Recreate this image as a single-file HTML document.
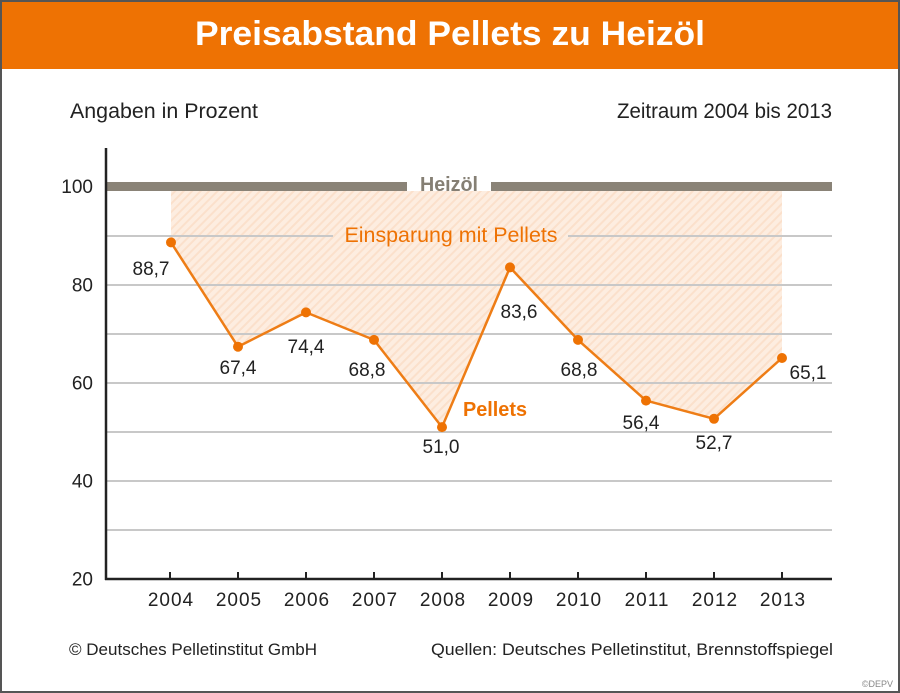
<!DOCTYPE html>
<html><head><meta charset="utf-8"><style>
html,body{margin:0;padding:0;background:#fff;}
svg{display:block;}
text{font-family:"Liberation Sans",sans-serif;}
</style></head><body>
<svg width="900" height="693" viewBox="0 0 900 693" xmlns="http://www.w3.org/2000/svg">
<defs>
<pattern id="hatch" width="6" height="6" patternUnits="userSpaceOnUse" patternTransform="rotate(45)">
<rect width="6" height="6" fill="#fdede0"/>
<rect width="2" height="6" fill="#fbe0cb"/>
</pattern>
</defs>
<rect x="0" y="0" width="900" height="693" fill="#fff"/>
<rect x="0" y="0" width="900" height="69" fill="#ee7203"/>
<rect x="1" y="1" width="898" height="691" fill="none" stroke="#555" stroke-width="2"/>
<text x="450" y="45" text-anchor="middle" font-size="34" font-weight="bold" fill="#fff" textLength="510" lengthAdjust="spacingAndGlyphs">Preisabstand Pellets zu Heizöl</text>
<text x="70" y="118" font-size="21" fill="#222" textLength="188" lengthAdjust="spacingAndGlyphs">Angaben in Prozent</text>
<text x="832" y="118" text-anchor="end" font-size="21" fill="#222" textLength="215" lengthAdjust="spacingAndGlyphs">Zeitraum 2004 bis 2013</text>

<!-- fill area -->
<polygon points="171,191 782,191 782,358 714,418.8 646,400.6 578,339.9 510,267.4 442,427.1 374,339.9 306,312.4 238,346.7 171,242.4" fill="url(#hatch)"/>

<!-- gridlines -->
<g stroke="#c8c8c8" stroke-width="2">
<line x1="106" y1="236" x2="333" y2="236"/>
<line x1="568" y1="236" x2="832" y2="236"/>
<line x1="106" y1="285" x2="832" y2="285"/>
<line x1="106" y1="334" x2="832" y2="334"/>
<line x1="106" y1="383" x2="832" y2="383"/>
<line x1="106" y1="432" x2="832" y2="432"/>
<line x1="106" y1="481" x2="832" y2="481"/>
<line x1="106" y1="530" x2="832" y2="530"/>
</g>

<!-- Heizöl bar -->
<rect x="106" y="182" width="301" height="9" fill="#8a8377"/>
<rect x="491" y="182" width="341" height="9" fill="#8a8377"/>
<text x="449" y="191" text-anchor="middle" font-size="20" font-weight="bold" fill="#857f74" textLength="58" lengthAdjust="spacingAndGlyphs">Heizöl</text>
<text x="451" y="242" text-anchor="middle" font-size="21" fill="#ee7203" textLength="213" lengthAdjust="spacingAndGlyphs">Einsparung mit Pellets</text>

<!-- axes -->
<line x1="106" y1="148" x2="106" y2="580" stroke="#222" stroke-width="2.5"/>
<line x1="105" y1="579" x2="832" y2="579" stroke="#222" stroke-width="2.5"/>
<g stroke="#222" stroke-width="2">
<line x1="170" y1="572" x2="170" y2="579"/>
<line x1="238" y1="572" x2="238" y2="579"/>
<line x1="306" y1="572" x2="306" y2="579"/>
<line x1="374" y1="572" x2="374" y2="579"/>
<line x1="442" y1="572" x2="442" y2="579"/>
<line x1="510" y1="572" x2="510" y2="579"/>
<line x1="578" y1="572" x2="578" y2="579"/>
<line x1="646" y1="572" x2="646" y2="579"/>
<line x1="714" y1="572" x2="714" y2="579"/>
<line x1="782" y1="572" x2="782" y2="579"/>
</g>

<!-- y labels -->
<g font-size="19" fill="#222" text-anchor="end">
<text x="93" y="193">100</text>
<text x="93" y="291.5">80</text>
<text x="93" y="389.5">60</text>
<text x="93" y="487.5">40</text>
<text x="93" y="585.5">20</text>
</g>

<!-- x labels -->
<g font-size="19" fill="#222" text-anchor="middle" letter-spacing="1">
<text x="171" y="606">2004</text>
<text x="239" y="606">2005</text>
<text x="307" y="606">2006</text>
<text x="375" y="606">2007</text>
<text x="443" y="606">2008</text>
<text x="511" y="606">2009</text>
<text x="579" y="606">2010</text>
<text x="647" y="606">2011</text>
<text x="715" y="606">2012</text>
<text x="783" y="606">2013</text>
</g>

<!-- line -->
<polyline points="171,242.4 238,346.7 306,312.4 374,339.9 442,427.1 510,267.4 578,339.9 646,400.6 714,418.8 782,358" fill="none" stroke="#ee7d16" stroke-width="2.5" stroke-linejoin="round"/>
<g fill="#ee7203">
<circle cx="171" cy="242.4" r="5"/>
<circle cx="238" cy="346.7" r="5"/>
<circle cx="306" cy="312.4" r="5"/>
<circle cx="374" cy="339.9" r="5"/>
<circle cx="442" cy="427.1" r="5"/>
<circle cx="510" cy="267.4" r="5"/>
<circle cx="578" cy="339.9" r="5"/>
<circle cx="646" cy="400.6" r="5"/>
<circle cx="714" cy="418.8" r="5"/>
<circle cx="782" cy="358" r="5"/>
</g>

<!-- data labels -->
<g font-size="19" fill="#222" text-anchor="middle">
<text x="151" y="275">88,7</text>
<text x="238" y="374">67,4</text>
<text x="306" y="353">74,4</text>
<text x="367" y="376">68,8</text>
<text x="441" y="453">51,0</text>
<text x="519" y="318">83,6</text>
<text x="579" y="376">68,8</text>
<text x="641" y="429">56,4</text>
<text x="714" y="449">52,7</text>
<text x="808" y="379">65,1</text>
</g>

<text x="495" y="416" text-anchor="middle" font-size="20" font-weight="bold" fill="#ee7203" textLength="64" lengthAdjust="spacingAndGlyphs">Pellets</text>

<!-- footer -->
<text x="69" y="655" font-size="17" fill="#222" textLength="248" lengthAdjust="spacingAndGlyphs">© Deutsches Pelletinstitut GmbH</text>
<text x="833" y="655" text-anchor="end" font-size="17" fill="#222" textLength="402" lengthAdjust="spacingAndGlyphs">Quellen: Deutsches Pelletinstitut, Brennstoffspiegel</text>
<text x="893" y="687" text-anchor="end" font-size="9" fill="#888">©DEPV</text>
</svg>
</body></html>
